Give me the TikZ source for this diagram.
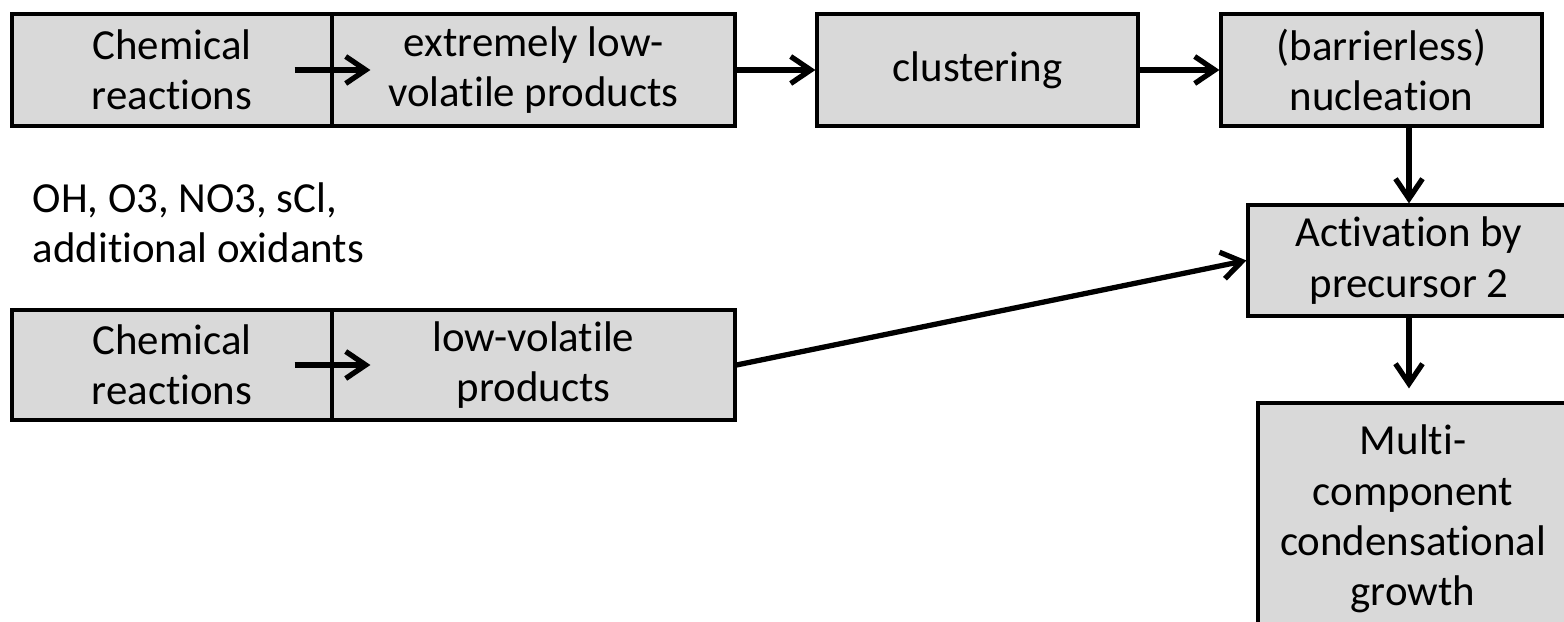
\documentclass[tikz,border=0pt]{standalone}
\usepackage{fontspec}
\setmainfont{Carlito}[Ligatures=NoCommon]
\usetikzlibrary{arrows.meta}

\begin{document}
\begin{tikzpicture}[
	font=\fontsize{12.2}{14.3}\selectfont,
	box/.style={draw, line width=0.9pt, fill=black!15, align=center, inner sep=0pt},
	arr/.style={-{Straight Barb[length=2mm,width=2.7mm]}, line width=1.5pt}
]
	\useasboundingbox (0,0) rectangle (15.64,-6.22);
	\clip (0,0) rectangle (15.64,-6.22);

	% Top row
	\node[box, minimum width=3.20cm, minimum height=1.12cm] (chemA) at (1.72,-0.70) {Chemical\\reactions};
	\node[box, minimum width=4.03cm, minimum height=1.12cm] (elvoc) at (5.335,-0.70) {extremely low-\\volatile products};
	\node[box, minimum width=3.21cm, minimum height=1.12cm] (clust) at (9.775,-0.70) {clustering};
	\node[box, minimum width=3.21cm, minimum height=1.12cm] (nucl) at (13.815,-0.70) {(barrierless)\\nucleation};

	% Oxidants
	\node[anchor=west, align=left, inner sep=0pt] (oxid) at (0.32,-2.23) {OH, O3, NO3, sCl,\\additional oxidants};

	% Bottom row
	\node[box, minimum width=3.20cm, minimum height=1.10cm] (chemB) at (1.72,-3.65) {Chemical\\reactions};
	\node[box, minimum width=4.03cm, minimum height=1.10cm] (lvoc) at (5.335,-3.65) {low-volatile\\products};

	% Right column
	\node[box, minimum width=3.22cm, minimum height=1.11cm] (activ) at (14.09,-2.605) {Activation by\\precursor 2};
	\node[box, minimum width=3.10cm, minimum height=2.32cm] (multi) at (14.13,-5.19) {Multi-\\component\\condensational\\growth};

	% Arrows
	\draw[arr] ([xshift=-0.39cm]chemA.east) -- ([xshift=0.40cm]elvoc.west);
	\draw[arr] (elvoc.east) -- (clust.west);
	\draw[arr] (clust.east) -- (nucl.west);
	\draw[arr] (nucl.south -| activ.north) -- (activ.north);
	\draw[arr, shorten >=0.13cm] (activ.south) -- (activ.south |- multi.north);
	\draw[arr] ([xshift=-0.39cm]chemB.east) -- ([xshift=0.40cm]lvoc.west);
	\draw[arr] (lvoc.east) -- (activ.west);
\end{tikzpicture}
\end{document}
